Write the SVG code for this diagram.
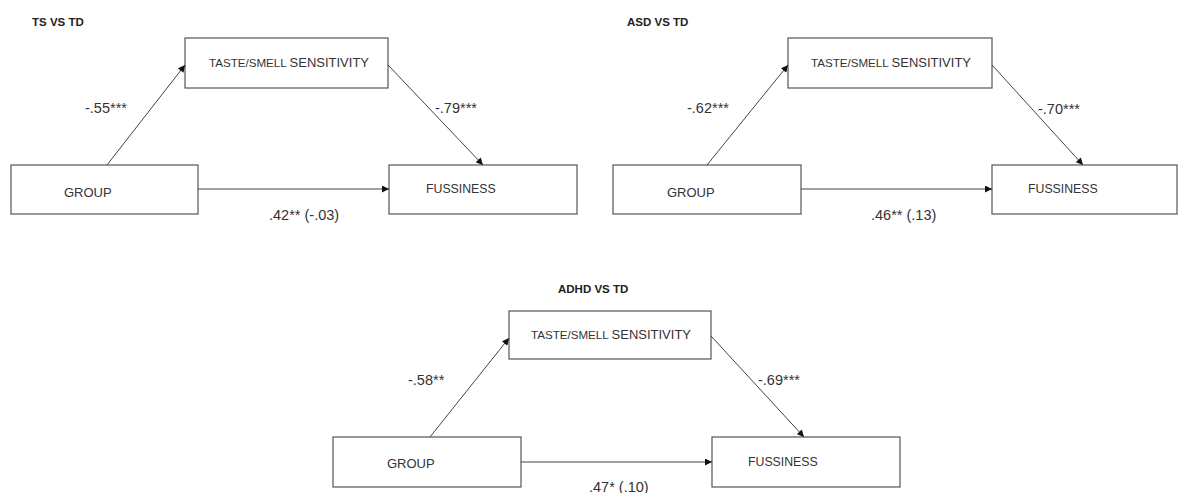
<svg xmlns="http://www.w3.org/2000/svg" width="1178" height="493" viewBox="0 0 1178 493">
<defs>
<style>
.box{fill:#fff;stroke:#555;stroke-width:1.2}
.ln{stroke:#444;stroke-width:1;fill:none;marker-end:url(#ah)}
text{font-family:"Liberation Sans",Arial,sans-serif;fill:#333}
.ttl{font-weight:bold;font-size:11.5px;fill:#222}
.lab{font-size:14.5px}
.grp{font-size:13px}
.fus{font-size:12.3px}
.sm{font-size:11.6px}
.big{font-size:13px}
</style>
<marker id="ah" viewBox="0 0 10 10" refX="10" refY="5" markerWidth="8" markerHeight="7" markerUnits="userSpaceOnUse" orient="auto">
<path d="M0,0 L10,5 L0,10 z" fill="#111"/>
</marker>
</defs>
<rect width="1178" height="493" fill="#fff"/>

<!-- Panel 1: TS VS TD -->
<g id="p1-title"><text class="ttl" x="32" y="26">TS VS TD</text></g>
<g id="p1-taste"><rect class="box" x="185" y="38" width="203" height="50"/><text x="209" y="67"><tspan class="sm">TASTE/SMELL </tspan><tspan class="big">SENSITIVITY</tspan></text></g>
<g id="p1-group"><rect class="box" x="11" y="165" width="187" height="49"/><text class="grp" x="64" y="197">GROUP</text></g>
<g id="p1-fuss"><rect class="box" x="389" y="165" width="188" height="49"/><text class="fus" x="426" y="193">FUSSINESS</text></g>

<!-- Panel 2: ASD VS TD -->
<g id="p2-title"><text class="ttl" x="627" y="26">ASD VS TD</text></g>
<g id="p2-taste"><rect class="box" x="788" y="38" width="204" height="50"/><text x="811" y="67"><tspan class="sm">TASTE/SMELL </tspan><tspan class="big">SENSITIVITY</tspan></text></g>
<g id="p2-group"><rect class="box" x="613" y="165" width="188" height="49"/><text class="grp" x="667" y="197">GROUP</text></g>
<g id="p2-fuss"><rect class="box" x="992" y="165" width="185" height="49"/><text class="fus" x="1028" y="193">FUSSINESS</text></g>

<!-- Panel 3: ADHD VS TD -->
<g id="p3-title"><text class="ttl" x="558" y="293">ADHD VS TD</text></g>
<g id="p3-taste"><rect class="box" x="509" y="311" width="202" height="48"/><text x="531" y="339"><tspan class="sm">TASTE/SMELL </tspan><tspan class="big">SENSITIVITY</tspan></text></g>
<g id="p3-group"><rect class="box" x="333" y="437" width="188" height="50"/><text class="grp" x="387" y="468">GROUP</text></g>
<g id="p3-fuss"><rect class="box" x="712" y="437" width="188" height="50"/><text class="fus" x="748" y="466">FUSSINESS</text></g>

<g id="connectors">
<line class="ln" x1="107" y1="165" x2="185" y2="65"/>
<line class="ln" x1="388" y1="65" x2="483" y2="165"/>
<line class="ln" x1="198" y1="189" x2="389" y2="189"/>
<line class="ln" x1="707" y1="165" x2="788" y2="65"/>
<line class="ln" x1="992" y1="65" x2="1083" y2="165"/>
<line class="ln" x1="801" y1="189" x2="992" y2="189"/>
<line class="ln" x1="430" y1="437" x2="509" y2="338"/>
<line class="ln" x1="711" y1="336" x2="804" y2="437"/>
<line class="ln" x1="521" y1="462" x2="712" y2="462"/>
</g>

<g id="labels">
<text class="lab" x="85" y="113">-.55***</text>
<text class="lab" x="435" y="113">-.79***</text>
<text class="lab" x="269" y="220">.42** (-.03)</text>
<text class="lab" x="687" y="113">-.62***</text>
<text class="lab" x="1038" y="114">-.70***</text>
<text class="lab" x="871" y="220">.46** (.13)</text>
<text class="lab" x="408" y="385">-.58**</text>
<text class="lab" x="758" y="385">-.69***</text>
<text class="lab" x="589" y="492">.47* (.10)</text>
</g>
</svg>
